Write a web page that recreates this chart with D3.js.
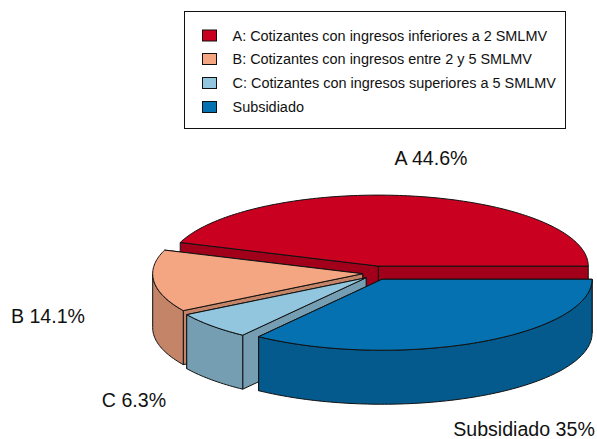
<!DOCTYPE html>
<html><head><meta charset="utf-8">
<script src="https://cdn.jsdelivr.net/npm/d3@7"></script>
<style>html,body{margin:0;padding:0;background:#fff}svg{display:block}text{font-family:"Liberation Sans",Arial,sans-serif;fill:#111}</style>
</head><body><svg id="c" width="597" height="439"></svg>
<script>
const sliceNames = ["A","B","C","Subsidiado"];
const sliceValues = [44.6,14.1,6.3,35];
const sliceLabels = ["A 44.6%","B 14.1%","C 6.3%","Subsidiado 35%"];
const legendLabels = ["A: Cotizantes con ingresos inferiores a 2 SMLMV","B: Cotizantes con ingresos entre 2 y 5 SMLMV","C: Cotizantes con ingresos superiores a 5 SMLMV","Subsidiado"];
const topColors = ["#CA0020","#F4A582","#92C5DE","#0571B0"];
const sideColors = ["#A2001A","#C38468","#759EB2","#055A8D"];
const labelX = [431,48,134,524];
const labelY = [165,323,407,436];
const legendY = [35.5,59,83,107];

const svg = d3.select("#c");
const W = 210, cx = 376, cy = 273, ry = 71, depth = 54, explodeX = 13.4/210, explodeY = 7/71;
const x = d3.scaleLinear().domain([-1,1]).range([cx-W,cx+W]);
const y = d3.scaleLinear().domain([-1,1]).range([cy+ry,cy-ry]);
const arcs = d3.pie().sort(null).startAngle(0).endAngle(2*Math.PI)(sliceValues);

function pt(a,ox,oy,r=1){return [x(ox+r*Math.cos(a)), y(oy+r*Math.sin(a))];}
function arcPts(a0,a1,ox,oy){
  const n=Math.max(2,Math.ceil((a1-a0)/0.02)), out=[];
  for(let i=0;i<=n;i++) out.push(pt(a0+(a1-a0)*i/n,ox,oy));
  return out;
}
const drop = p=>[p[0],p[1]+depth];
const line = d3.line();
const g = svg.append("g");
arcs.forEach((d,i)=>{
  const a0=d.startAngle,a1=d.endAngle,mid=(a0+a1)/2;
  const ox=explodeX*Math.cos(mid), oy=explodeY*Math.sin(mid);
  const c=pt(0,ox,oy,0);
  [a0,a1].forEach(a=>{
    const e=pt(a,ox,oy);
    g.append("path").attr("d",line([c,e,drop(e),drop(c)])+"Z")
      .attr("fill",sideColors[i]).attr("stroke","#111").attr("stroke-width",1);
  });
  const fa0=Math.max(a0,Math.PI), fa1=Math.min(a1,2*Math.PI);
  if(fa1>fa0){
    const top=arcPts(fa0,fa1,ox,oy);
    g.append("path").attr("d",line(top.concat(top.slice().reverse().map(drop)))+"Z")
      .attr("fill",sideColors[i]).attr("stroke","#111").attr("stroke-width",1);
  }
  g.append("path").attr("d",line([c].concat(arcPts(a0,a1,ox,oy)))+"Z")
    .attr("fill",topColors[i]).attr("stroke","#111").attr("stroke-width",1);
});
svg.selectAll("text.lab").data(sliceLabels).join("text").attr("class","lab")
  .attr("x",(d,i)=>labelX[i]).attr("y",(d,i)=>labelY[i]).attr("text-anchor","middle")
  .attr("font-size",19.6).text(d=>d);
const lg=svg.append("g");
lg.append("rect").attr("x",184.5).attr("y",11.5).attr("width",381).attr("height",117)
  .attr("fill","#fff").attr("stroke","#111").attr("stroke-width",1);
legendLabels.forEach((t,i)=>{
  lg.append("rect").attr("x",202.5).attr("y",legendY[i]-5.5).attr("width",14).attr("height",11)
    .attr("fill",topColors[i]).attr("stroke","#111");
  lg.append("text").attr("x",232.5).attr("y",legendY[i]+5).attr("font-size",14.45).text(t);
});
</script></body></html>
